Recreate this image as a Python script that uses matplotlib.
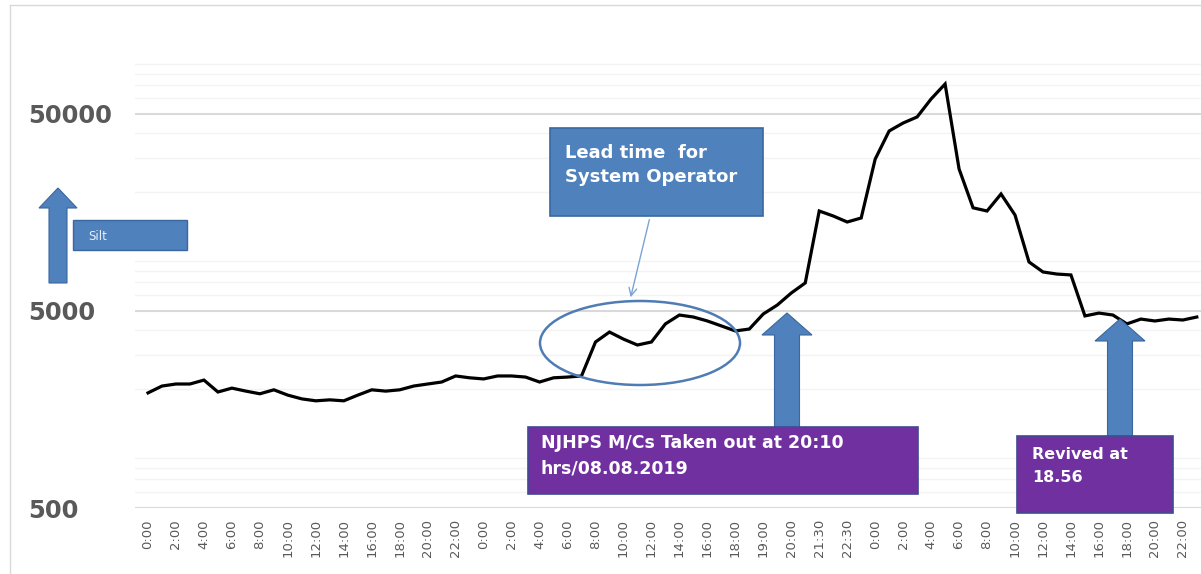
import matplotlib.pyplot as plt
import numpy as np
from matplotlib.patches import Rectangle, Ellipse, FancyArrow
from matplotlib.lines import Line2D
from matplotlib.ticker import FixedLocator, NullFormatter

# hourly readings (silt, ppm), 08.08 - 10.08.2019
silt = [1920, 2080, 2130, 2130, 2230, 1940, 2030, 1960, 1900, 1990,
        1870, 1790, 1750, 1770, 1750, 1870, 1990, 1960, 1990, 2080,
        2130, 2180, 2340, 2290, 2260, 2340, 2340, 2310, 2180, 2290,
        2310, 2340, 3480, 3910, 3600, 3360, 3480, 4300, 4770, 4660,
        4450, 4200, 3960, 4050, 4830, 5360, 6170, 6940, 16090, 15180,
        14150, 14830, 29500, 41000, 45000, 48300, 59600, 71000, 26300, 16700,
        16090, 19630, 15350, 8870, 7890, 7700, 7620, 4720, 4880, 4770,
        4300, 4550, 4450, 4550, 4500, 4660]

tick_labels = ['0:00', '2:00', '4:00', '6:00', '8:00', '10:00', '12:00', '14:00',
               '16:00', '18:00', '20:00', '22:00',
               '0:00', '2:00', '4:00', '6:00', '8:00', '10:00', '12:00', '14:00',
               '16:00', '18:00', '19:00', '20:00', '21:30', '22:30',
               '0:00', '2:00', '4:00', '6:00', '8:00', '10:00', '12:00', '14:00',
               '16:00', '18:00', '20:00', '22:00']

y_ticks = [500, 5000, 50000]

W, H = 1201, 574
fig = plt.figure(figsize=(W / 100, H / 100), dpi=100)

# main chart
ax = fig.add_axes([135 / W, (H - 508) / H, (W - 135) / W, 508 / H])
x = np.arange(len(silt))
ax.plot(x, silt, color='black', lw=2.3, solid_joinstyle='miter', zorder=3)

ax.set_yscale('log')
ax.set_ylim(500, 189500)
ax.set_xlim(-0.93, 75.3)

ax.yaxis.set_major_locator(FixedLocator(y_ticks))
ax.set_yticklabels([str(v) for v in y_ticks])
ax.yaxis.set_minor_locator(FixedLocator(
    [m * 10 ** e for e in range(2, 6) for m in range(2, 10)]))
ax.yaxis.set_minor_formatter(NullFormatter())
ax.tick_params(axis='y', which='both', length=0, pad=77, labelsize=17.5,
               labelcolor='#595959')
for lbl in ax.get_yticklabels():
    lbl.set_ha('left')
    lbl.set_fontweight('bold')

ax.set_xticks(x[::2][:len(tick_labels)])
ax.set_xticklabels(tick_labels, rotation=90, fontsize=9.5, color='#595959')
ax.tick_params(axis='x', length=0, pad=8)

ax.grid(axis='y', which='major', color='#D9D9D9', lw=1.5)
ax.grid(axis='y', which='minor', color='#F3F3F3', lw=1.0)
for s in ax.spines.values():
    s.set_visible(False)

# overlay for the callouts (pixel coords)
ov = fig.add_axes([0, 0, 1, 1])
ov.set_xlim(0, W)
ov.set_ylim(H, 0)
ov.axis('off')
ov.patch.set_alpha(0)

ov.add_line(Line2D([10, 10], [5, H], color='#D9D9D9', lw=1))
ov.add_line(Line2D([10, W], [5, 5], color='#D9D9D9', lw=1))

blue = '#4F81BD'
blue_edge = '#3A679E'
purple = '#7030A0'
purple_edge = '#3F4A92'

# lead time box + pointer + ellipse
ov.add_patch(Rectangle((550, 128), 213, 88, fc=blue, ec=blue_edge, lw=1.2))
ov.text(565, 165, 'Lead time  for\nSystem Operator', color='white',
        fontsize=13, fontweight='bold', va='center', ha='left', linespacing=1.4)
ov.annotate('', xy=(630, 300), xytext=(650, 217),
            arrowprops=dict(arrowstyle='->', color='#7AA3D6', lw=1.0,
                            mutation_scale=14))
ov.add_patch(Ellipse((640, 343), 200, 84, fc='none', ec='#4F7CB5', lw=1.8))

# block arrows
ov.add_patch(FancyArrow(787, 445, 0, -132, width=25, head_width=50,
                        head_length=22, length_includes_head=True,
                        fc=blue, ec=blue_edge, lw=0.8))
ov.add_patch(FancyArrow(1120, 450, 0, -131, width=25, head_width=50,
                        head_length=22, length_includes_head=True,
                        fc=blue, ec=blue_edge, lw=0.8))
ov.add_patch(FancyArrow(58, 283, 0, -95, width=18, head_width=38,
                        head_length=20, length_includes_head=True,
                        fc=blue, ec=blue_edge, lw=0.8))

# silt label
ov.add_patch(Rectangle((73, 220), 114, 30, fc=blue, ec=blue_edge, lw=1.0))
ov.text(88, 236, 'Silt', color='#EAF0F8', fontsize=8.5, va='center', ha='left')

# purple boxes
ov.add_patch(Rectangle((528, 427), 390, 67, fc=purple, ec=purple_edge, lw=1.2))
ov.text(541, 456, 'NJHPS M/Cs Taken out at 20:10\nhrs/08.08.2019', color='white',
        fontsize=12.5, fontweight='bold', va='center', ha='left', linespacing=1.5)
ov.add_patch(Rectangle((1017, 436), 156, 77, fc=purple, ec=purple_edge, lw=1.2))
ov.text(1032, 466, 'Revived at\n18.56', color='white',
        fontsize=11.5, fontweight='bold', va='center', ha='left', linespacing=1.6)

fig.savefig('out.png', dpi=100)
